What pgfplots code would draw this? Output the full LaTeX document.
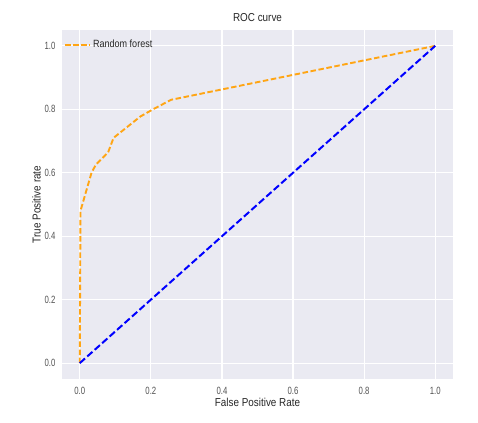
\documentclass[border=0pt]{standalone}
\usepackage{pgfplots}
\pgfplotsset{compat=1.18}
\usepackage{fontspec}
\setmainfont{Liberation Sans}[FakeStretch=0.86]
\newfontfamily\tickfont{Liberation Sans}[FakeStretch=0.74]
\definecolor{sbbg}{HTML}{EAEAF2}
\definecolor{sbtext}{HTML}{262626}
\definecolor{rocorange}{HTML}{FFA514}
\begin{document}
\begin{tikzpicture}
\useasboundingbox (-62pt,-43pt) rectangle (416pt,379pt);
\begin{axis}[
  scale only axis,
  width=391pt, height=349pt,
  xmin=-0.05, xmax=1.05, ymin=-0.05, ymax=1.05,
  xtick={0,0.2,0.4,0.6,0.8,1.0},
  ytick={0,0.2,0.4,0.6,0.8,1.0},
  axis background/.style={fill=sbbg},
  axis line style={draw=none},
  major tick length=0pt,
  grid=major,
  major grid style={white, line width=1.1pt},
  /pgf/number format/assume math mode=true,
  /pgf/number format/.cd, fixed, fixed zerofill, precision=1,
  /pgfplots/.cd,
  ticklabel style={font=\tickfont\fontsize{10.5}{12}\selectfont, text=sbtext!80},
  xticklabel style={yshift=-4.5pt},
  yticklabel style={xshift=-3pt},
  title={ROC curve},
  title style={font=\fontsize{11.5}{13}\selectfont, text=sbtext, yshift=-1pt},
  xlabel={False Positive Rate},
  ylabel={True Positive rate},
  label style={font=\fontsize{11.5}{13}\selectfont, text=sbtext},
  xlabel style={yshift=3pt},
  ylabel style={yshift=-3pt},
  legend style={draw=none, fill=none, at={(0,1)}, anchor=north west,
    font=\fontsize{10.5}{12}\selectfont, text=sbtext, xshift=-1pt, yshift=-6pt},
  legend cell align=left,
  legend image code/.code={\draw[#1] (0pt,0pt) -- (25pt,0pt);},
]
\addplot[rocorange, line width=1.9pt, dash pattern=on 5.5pt off 2.6pt, line join=round]
  coordinates {(0,0) (0.002,0.48) (0.033,0.60) (0.045,0.625) (0.08,0.665) (0.095,0.71)
  (0.17,0.777) (0.206,0.80) (0.257,0.83) (1,1)};
\addlegendentry{Random forest}
\addplot[blue, line width=2pt, dash pattern=on 7pt off 3pt, forget plot]
  coordinates {(0,0) (1,1)};
\end{axis}
\end{tikzpicture}
\end{document}
